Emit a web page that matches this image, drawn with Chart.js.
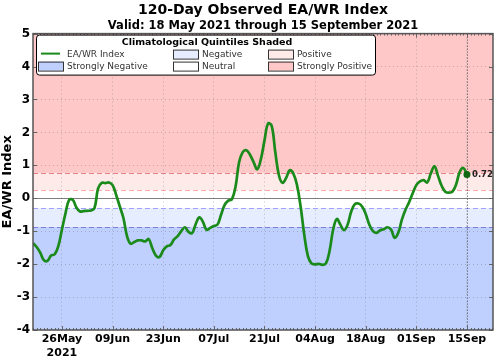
<!DOCTYPE html>
<html>
<head>
<meta charset="utf-8">
<script src="https://cdn.jsdelivr.net/npm/chart.js@4"></script>
<style>
  body { margin: 0; background: #fff; }
  #wrap { width: 500px; height: 361px; }
</style>
</head>
<body>
<div id="wrap"><canvas id="myChart"></canvas></div>
<script>
// day 0 = 18 May 2021
var startDate = new Date(2021, 4, 18);
var tickDays = [8, 22, 36, 50, 64, 78, 92, 106, 120];
var yTicks = [-4, -3, -2, -1, 0, 1, 2, 3, 4, 5];

// EA/WR index, one value per day (18 May .. 15 Sep)
var eawr = [
  -1.36, -1.48, -1.65, -1.88, -1.90, -1.74, -1.70, -1.45, -0.95, -0.45,
  -0.05, -0.05, -0.28, -0.40, -0.39, -0.38, -0.37, -0.30, 0.30, 0.47,
  0.46, 0.48, 0.40, 0.10, -0.25, -0.60, -1.15, -1.38, -1.33, -1.28,
  -1.28, -1.31, -1.24, -1.52, -1.74, -1.78, -1.58, -1.46, -1.42, -1.25,
  -1.15, -1.00, -0.88, -1.02, -1.06, -0.78, -0.58, -0.72, -0.96, -0.90,
  -0.84, -0.80, -0.50, -0.20, -0.07, -0.03, 0.35, 1.10, 1.40, 1.46,
  1.32, 1.10, 0.88, 1.18, 1.75, 2.27, 2.20, 1.40, 0.70, 0.47,
  0.62, 0.85, 0.75, 0.40, -0.25, -1.10, -1.75, -1.98, -2.01, -1.99,
  -2.02, -1.98, -1.60, -0.95, -0.63, -0.80, -0.97, -0.80, -0.40, -0.18,
  -0.16, -0.25, -0.48, -0.80, -1.00, -1.05, -0.97, -0.94, -0.88, -0.95,
  -1.20, -1.05, -0.65, -0.35, -0.12, 0.15, 0.40, 0.51, 0.55, 0.48,
  0.75, 0.97, 0.68, 0.38, 0.20, 0.17, 0.20, 0.42, 0.80, 0.92,
  0.72
];

// quintile boundaries
var quintiles = [-0.87, -0.30, 0.25, 0.77];
var bandNames = ['Strongly Negative', 'Negative', 'Neutral', 'Positive', 'Strongly Positive'];
var bandColors = ['#bfd0ff', '#e6edff', '#ffffff', '#ffeaea', '#ffc8c8'];
var lineColors = ['#7f7fd8', '#a0a0ff', '#ffa8a8', '#e08080'];

var months = ['Jan','Feb','Mar','Apr','May','Jun','Jul','Aug','Sep','Oct','Nov','Dec'];
function dayLabel(d) {
  var dt = new Date(startDate.getTime());
  dt.setDate(dt.getDate() + d);
  var dd = ('0' + dt.getDate()).slice(-2);
  return dd + months[dt.getMonth()];
}

var points = eawr.map(function (v, i) { return { x: i, y: v }; });
var lastIdx = eawr.length - 1;

const bands = {
  id: 'bands',
  beforeDraw(chart) {
    const ctx = chart.ctx, a = chart.chartArea, y = chart.scales.y;
    ctx.save();
    var edges = [y.min].concat(quintiles, [y.max]);
    for (var i = 0; i < bandColors.length; i++) {
      var top = y.getPixelForValue(edges[i + 1]);
      var bot = y.getPixelForValue(edges[i]);
      ctx.fillStyle = bandColors[i];
      ctx.fillRect(a.left, top, a.right - a.left, bot - top);
    }
    ctx.lineWidth = 1;
    ctx.setLineDash([5, 3]);
    quintiles.forEach(function (q, i) {
      var p = Math.round(y.getPixelForValue(q)) + 0.5;
      ctx.strokeStyle = lineColors[i];
      ctx.beginPath(); ctx.moveTo(a.left, p); ctx.lineTo(a.right, p); ctx.stroke();
    });
    ctx.setLineDash([]);
    var z = Math.round(y.getPixelForValue(0)) + 0.5;
    ctx.strokeStyle = '#808080';
    ctx.beginPath(); ctx.moveTo(a.left, z); ctx.lineTo(a.right, z); ctx.stroke();
    ctx.restore();
  },
  beforeDatasetsDraw(chart) {
    const ctx = chart.ctx, a = chart.chartArea, x = chart.scales.x;
    ctx.save();
    var px = Math.round(x.getPixelForValue(lastIdx)) + 0.5;
    ctx.strokeStyle = '#444';
    ctx.lineWidth = 1;
    ctx.setLineDash([1, 2]);
    ctx.beginPath(); ctx.moveTo(px, a.top); ctx.lineTo(px, a.bottom); ctx.stroke();
    ctx.restore();
  },
  afterDraw(chart) {
    const ctx = chart.ctx, a = chart.chartArea, x = chart.scales.x, y = chart.scales.y;
    ctx.save();
    // minor ticks every day, major at labelled days / integers
    ctx.strokeStyle = '#666';
    ctx.lineWidth = 1;
    ctx.beginPath();
    for (var d = Math.ceil(x.min); d <= x.max; d++) {
      var px = Math.round(x.getPixelForValue(d)) + 0.5;
      var len = tickDays.indexOf(d) >= 0 ? 4 : 2;
      ctx.moveTo(px, a.bottom); ctx.lineTo(px, a.bottom - len);
      ctx.moveTo(px, a.top); ctx.lineTo(px, a.top + len);
    }
    yTicks.forEach(function (t) {
      var py = Math.round(y.getPixelForValue(t)) + 0.5;
      ctx.moveTo(a.left, py); ctx.lineTo(a.left + 4, py);
      ctx.moveTo(a.right, py); ctx.lineTo(a.right - 4, py);
    });
    ctx.stroke();
    ctx.strokeStyle = '#555';
    ctx.lineWidth = 1.5;
    ctx.strokeRect(a.left, a.top, a.right - a.left, a.bottom - a.top);

    // last value label
    var lx = x.getPixelForValue(lastIdx), ly = y.getPixelForValue(eawr[lastIdx]);
    ctx.fillStyle = '#222';
    ctx.font = 'bold 8.5px "DejaVu Sans"';
    ctx.textBaseline = 'middle';
    ctx.fillText(eawr[lastIdx].toFixed(2), lx + 5, ly);

    // legend box
    var lx0 = a.left + 3, ly0 = a.top + 1, lw = 339, lh = 40;
    ctx.fillStyle = '#fff';
    ctx.strokeStyle = '#000';
    ctx.lineWidth = 1;
    ctx.beginPath();
    ctx.roundRect(lx0 + 0.5, ly0 + 0.5, lw, lh, 3);
    ctx.fill(); ctx.stroke();
    ctx.fillStyle = '#000';
    ctx.font = 'bold 9.5px "DejaVu Sans"';
    ctx.textAlign = 'center';
    ctx.fillText('Climatological Quintiles Shaded', lx0 + 171, ly0 + 8);
    ctx.textAlign = 'left';
    ctx.font = '9px "DejaVu Sans"';
    var rows = [ly0 + 20, ly0 + 32];
    var cols = [lx0 + 2, lx0 + 137, lx0 + 232];
    var items = [
      { col: 0, row: 0, line: true, name: 'EA/WR Index' },
      { col: 0, row: 1, band: 0 },
      { col: 1, row: 0, band: 1 },
      { col: 1, row: 1, band: 2 },
      { col: 2, row: 0, band: 3 },
      { col: 2, row: 1, band: 4 }
    ];
    items.forEach(function (it) {
      var cx = cols[it.col], cy = rows[it.row];
      if (it.line) {
        ctx.strokeStyle = '#1a8a1a';
        ctx.lineWidth = 2;
        ctx.beginPath(); ctx.moveTo(cx + 3, cy - 1); ctx.lineTo(cx + 22, cy - 1); ctx.stroke();
      } else {
        ctx.fillStyle = bandColors[it.band];
        ctx.fillRect(cx, cy - 5, 25, 9);
        ctx.strokeStyle = '#333';
        ctx.lineWidth = 1;
        ctx.strokeRect(cx + 0.5, cy - 4.5, 25, 9);
      }
      ctx.fillStyle = '#333';
      ctx.fillText(it.name || bandNames[it.band], cx + 29, cy);
    });
    ctx.restore();
  }
};

const ctx = document.getElementById('myChart').getContext('2d');
const myChart = new Chart(ctx, {
  type: 'line',
  data: {
    datasets: [{
      label: 'EA/WR Index',
      data: points,
      borderColor: '#1a8a1a',
      backgroundColor: '#1a8a1a',
      borderWidth: 2.7,
      tension: 0.4,
      pointRadius: eawr.map(function (v, i) { return i === lastIdx ? 3.5 : 0; }),
      pointBackgroundColor: '#116611',
      pointBorderWidth: 0
    }]
  },
  plugins: [bands],
  options: {
    responsive: true,
    maintainAspectRatio: false,
    animation: false,
    layout: { padding: { left: 0, right: 7, top: 0, bottom: 0 } },
    plugins: {
      legend: { display: false },
      tooltip: { enabled: false },
      title: {
        display: true,
        fullSize: false,
        text: '120-Day Observed EA/WR Index',
        color: '#000',
        font: { family: 'DejaVu Sans', size: 14, weight: 'bold' },
        padding: { top: 2, bottom: 0 }
      },
      subtitle: {
        display: true,
        fullSize: false,
        text: 'Valid: 18 May 2021 through 15 September 2021',
        color: '#000',
        font: { family: 'DejaVu Sans', size: 11.5, weight: 'bold' },
        padding: { top: 0, bottom: 1 }
      }
    },
    scales: {
      x: {
        type: 'linear',
        min: 0,
        max: 127.2,
        afterBuildTicks: function (s) { s.ticks = tickDays.map(function (d) { return { value: d }; }); },
        afterFit: function (s) { s.height = 31; },
        ticks: {
          autoSkip: false,
          maxRotation: 0,
          padding: 3,
          color: '#000',
          font: { family: 'DejaVu Sans', size: 11, weight: 'bold' },
          callback: function (v) { return v === tickDays[0] ? [dayLabel(v), '2021'] : dayLabel(v); }
        },
        grid: { color: 'rgba(110,110,110,0.4)', drawTicks: false },
        border: { display: false, dash: [1, 3] }
      },
      y: {
        min: -4,
        max: 5,
        afterBuildTicks: function (s) { s.ticks = yTicks.map(function (v) { return { value: v }; }); },
        afterFit: function (s) { s.width = 33; },
        title: {
          display: true,
          text: 'EA/WR Index',
          color: '#000',
          font: { family: 'DejaVu Sans', size: 13, weight: 'bold' },
          padding: 0
        },
        ticks: {
          padding: 3,
          color: '#000',
          font: { family: 'DejaVu Sans', size: 12, weight: 'bold' }
        },
        grid: { color: 'rgba(110,110,110,0.4)', drawTicks: false },
        border: { display: false, dash: [1, 3] }
      }
    }
  }
});
</script>
</body>
</html>
